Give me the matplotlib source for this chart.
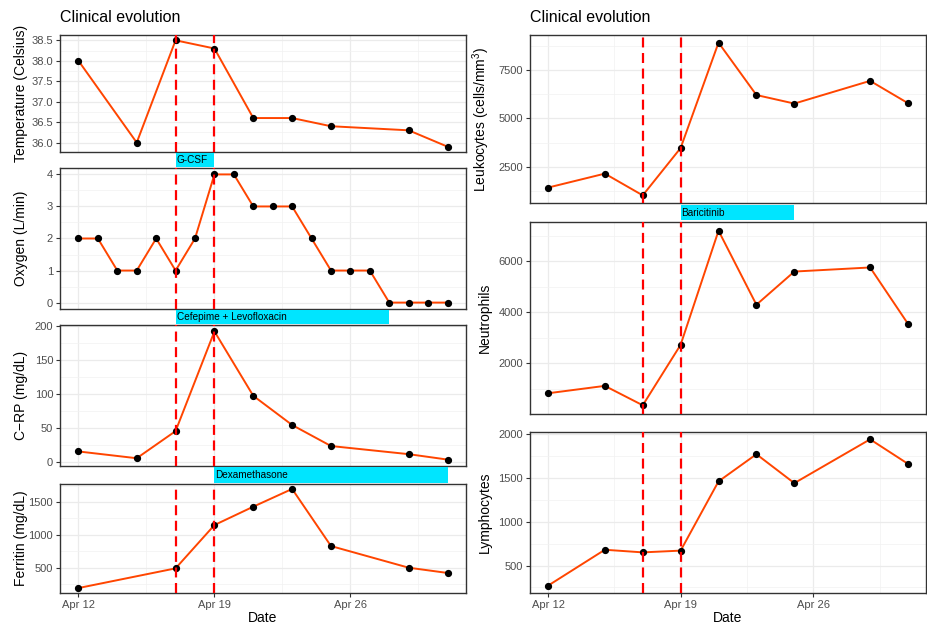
import datetime as dt
import matplotlib
matplotlib.use('Agg')
import matplotlib.pyplot as plt
import matplotlib.dates as mdates
from matplotlib.ticker import AutoMinorLocator, FormatStrFormatter

plt.rcParams['font.family'] = ['Liberation Sans', 'DejaVu Sans']
plt.rcParams['mathtext.default'] = 'regular'

W, H = 928, 626


def d(s):
    return dt.datetime.strptime('2020 ' + s, '%Y %b %d')


# sampling days
lab_days = ['Apr 12', 'Apr 15', 'Apr 17', 'Apr 19', 'Apr 21', 'Apr 23', 'Apr 25', 'Apr 29', 'May 1']
ferritin_days = ['Apr 12', 'Apr 17', 'Apr 19', 'Apr 21', 'Apr 23', 'Apr 25', 'Apr 29', 'May 1']
oxygen_days = ['Apr 12', 'Apr 13', 'Apr 14', 'Apr 15', 'Apr 16', 'Apr 17', 'Apr 18', 'Apr 19',
               'Apr 20', 'Apr 21', 'Apr 22', 'Apr 23', 'Apr 24', 'Apr 25', 'Apr 26', 'Apr 27',
               'Apr 28', 'Apr 29', 'Apr 30', 'May 1']

# values
temperature = [38.0, 36.0, 38.5, 38.3, 36.6, 36.6, 36.4, 36.3, 35.9]
oxygen = [2, 2, 1, 1, 2, 1, 2, 4, 4, 3, 3, 3, 2, 1, 1, 1, 0, 0, 0, 0]
crp = [15, 5, 45, 192, 97, 54, 23, 11, 3]
ferritin = [190, 490, 1150, 1430, 1700, 830, 500, 420]
leukocytes = [1430, 2150, 1030, 3470, 8900, 6200, 5760, 6930, 5780]
neutrophils = [830, 1120, 360, 2730, 7200, 4300, 5600, 5760, 3550]
lymphocytes = [270, 680, 650, 670, 1460, 1770, 1440, 1940, 1660]

# treatments: (name, start, end)
left_treatments = [('G-CSF', 'Apr 17', 'Apr 19'),
                   ('Cefepime + Levofloxacin', 'Apr 17', 'Apr 28'),
                   ('Dexamethasone', 'Apr 19', 'May 1')]
right_treatments = [('Baricitinib', 'Apr 19', 'Apr 25')]

event_days = ['Apr 17', 'Apr 19']
x_ticks = ['Apr 12', 'Apr 19', 'Apr 26']

LINE_COLOR = '#FF4500'
BAR_COLOR = '#00E5FF'
XMIN = mdates.date2num(d('Apr 12')) - 0.95
XMAX = mdates.date2num(d('May 1')) + 0.95

fig = plt.figure(figsize=(W / 100, H / 100), dpi=100)


def rect(x0, y0, x1, y1):
    return [x0 / W, 1 - y1 / H, (x1 - x0) / W, (y1 - y0) / H]


def panel(box, days, values, ylabel, label_x, yticks, fmt='%d', bottom=False):
    x0, y0, x1, y1 = box
    ax = fig.add_axes(rect(*box))
    dates = [d(s) for s in days]
    ax.plot(dates, values, color=LINE_COLOR, lw=1.4, zorder=3)
    ax.plot(dates, values, 'o', color='black', ms=4.2, zorder=4)
    for e in event_days:
        ax.axvline(d(e), color='#FF0000', lw=1.6, dashes=(4.5, 2.5), zorder=5)
    lo, hi = min(values), max(values)
    pad = (hi - lo) * 0.05
    ax.set_ylim(lo - pad, hi + pad)
    ax.set_xlim(XMIN, XMAX)
    ax.set_yticks(yticks)
    ax.yaxis.set_major_formatter(FormatStrFormatter(fmt))
    ax.set_xticks([d(s) for s in x_ticks])
    ax.xaxis.set_major_formatter(mdates.DateFormatter('%b %d'))
    ax.xaxis.set_minor_locator(AutoMinorLocator(2))
    ax.yaxis.set_minor_locator(AutoMinorLocator(2))
    ax.grid(True, which='major', color='#EBEBEB', lw=0.9, zorder=0)
    ax.grid(True, which='minor', color='#F2F2F2', lw=0.5, zorder=0)
    ax.set_axisbelow(True)
    for sp in ax.spines.values():
        sp.set_color('#333333')
        sp.set_linewidth(1.0)
    ax.tick_params(which='major', length=2.75, width=0.8, color='#333333',
                   pad=2.2, labelsize=8, labelcolor='#4D4D4D')
    ax.tick_params(which='minor', length=0)
    if bottom:
        ax.set_xlabel('Date', fontsize=10)
        ax.xaxis.set_label_coords(0.5, -(611 - y1) / (y1 - y0))
    else:
        ax.tick_params(axis='x', which='both', length=0, labelbottom=False)
    ax.set_ylabel(ylabel, fontsize=10)
    ax.yaxis.set_label_coords((label_x - x0) / (x1 - x0), 0.5)
    return ax


def treatment_bar(box, name, start, end):
    ax = fig.add_axes(rect(*box))
    ax.set_xlim(XMIN, XMAX)
    ax.set_ylim(-0.5, 0.5)
    s = mdates.date2num(d(start))
    e = mdates.date2num(d(end))
    ax.barh(0, e - s, left=s, height=0.85, color=BAR_COLOR)
    ax.text(s + 0.05, 0, name, fontsize=7.2, va='center', ha='left', color='black')
    ax.axis('off')


# left column
LX0, LX1 = 60, 466
panel((LX0, 35, LX1, 152), lab_days, temperature, 'Temperature (Celsius)', 28,
      [36.0, 36.5, 37.0, 37.5, 38.0, 38.5], fmt='%.1f')
panel((LX0, 168, LX1, 309), oxygen_days, oxygen, 'Oxygen (L/min)', 28, [0, 1, 2, 3, 4])
panel((LX0, 325, LX1, 466), lab_days, crp, 'C\u2212RP (mg/dL)', 28, [0, 50, 100, 150, 200])
panel((LX0, 484, LX1, 593), ferritin_days, ferritin, 'Ferritin (mg/dL)', 28,
      [500, 1000, 1500], bottom=True)
gaps = [(152, 168), (309, 325), (466, 484)]
for (name, s, e), (g0, g1) in zip(left_treatments, gaps):
    treatment_bar((LX0, g0, LX1, g1), name, s, e)

# right column
RX0, RX1 = 530, 926
panel((RX0, 35, RX1, 203), lab_days, leukocytes, 'Leukocytes (cells/mm$^3$)', 492,
      [2500, 5000, 7500])
panel((RX0, 222, RX1, 414), lab_days, neutrophils, 'Neutrophils', 492, [2000, 4000, 6000])
panel((RX0, 432, RX1, 593), lab_days, lymphocytes, 'Lymphocytes', 492,
      [500, 1000, 1500, 2000], bottom=True)
for name, s, e in right_treatments:
    treatment_bar((RX0, 204, RX1, 221), name, s, e)

fig.text(LX0 / W, 1 - 18 / H, 'Clinical evolution', fontsize=11.5, va='center', ha='left')
fig.text(RX0 / W, 1 - 18 / H, 'Clinical evolution', fontsize=11.5, va='center', ha='left')

fig.savefig('out.png', dpi=100)
